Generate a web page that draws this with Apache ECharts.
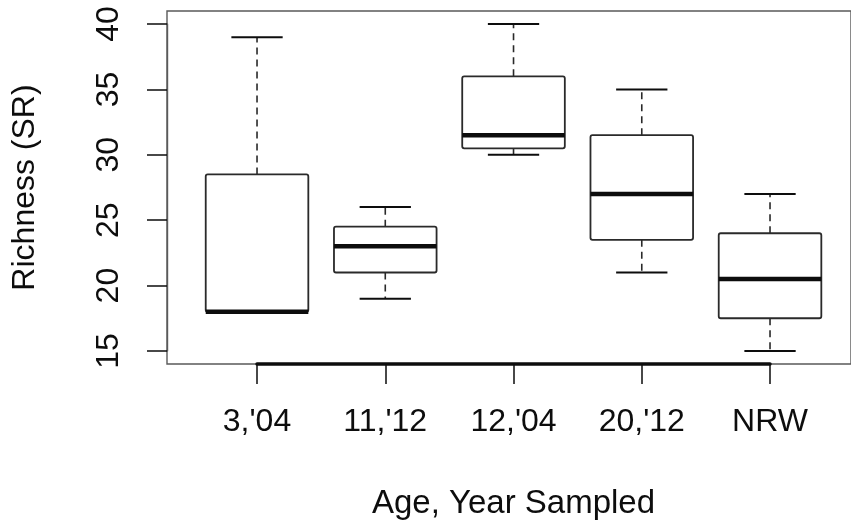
<!DOCTYPE html>
<html>
<head>
<meta charset="utf-8">
<script src="https://cdn.jsdelivr.net/npm/echarts@6/dist/echarts.min.js"></script>
<style>
html,body{margin:0;padding:0;background:#fff;}
#c{width:851px;height:532px;}
</style>
</head>
<body>
<div id="c"></div>
<script>
// ---- data ----
var categories = ["3,'04", "11,'12", "12,'04", "20,'12", "NRW"];
var whiskerLow  = [18, 19, 30, 21, 15];
var q1Values    = [18, 21, 30.5, 23.5, 17.5];
var medians     = [18, 23, 31.5, 27, 20.5];
var q3Values    = [28.5, 24.5, 36, 31.5, 24];
var whiskerHigh = [39, 26, 40, 35, 27];
var yTickMin = 15, yTickMax = 40, yTickStep = 5;
var yRangeMin = 14, yRangeMax = 41;
var xTitle = 'Age, Year Sampled';
var yTitle = 'Richness (SR)';

var boxData = categories.map(function (c, i) {
  return [i, whiskerLow[i], q1Values[i], medians[i], q3Values[i], whiskerHigh[i]];
});

var FONT = "'Liberation Sans', Arial, Helvetica, sans-serif";
var INK = '#0d0d0d';

function renderBox(params, api) {
  var i = api.value(0);
  var band = api.size([1, 0])[0];
  var cx = api.coord([i, api.value(3)])[0];
  var hw = band * 0.4, cw = band * 0.2;
  function Y(v) { return api.coord([i, v])[1]; }
  var yLo = Y(api.value(1)), yQ1 = Y(api.value(2)), yMed = Y(api.value(3)),
      yQ3 = Y(api.value(4)), yHi = Y(api.value(5));
  var dashed = { stroke: '#2a2a2a', lineWidth: 1.6, lineDash: [7, 5], fill: null };
  var kids = [
    { type: 'line', shape: { x1: cx, y1: yQ3, x2: cx, y2: yHi }, style: dashed },
    { type: 'line', shape: { x1: cx, y1: yQ1, x2: cx, y2: yLo }, style: dashed },
    { type: 'line', shape: { x1: cx - cw, y1: yHi, x2: cx + cw, y2: yHi }, style: { stroke: INK, lineWidth: 2 } },
    { type: 'line', shape: { x1: cx - cw, y1: yLo, x2: cx + cw, y2: yLo }, style: { stroke: INK, lineWidth: 2 } },
    { type: 'rect', shape: { x: cx - hw, y: yQ3, width: 2 * hw, height: yQ1 - yQ3, r: 2 }, style: { stroke: '#2a2a2a', lineWidth: 1.8, fill: '#fff' } },
    { type: 'line', shape: { x1: cx - hw, y1: yMed, x2: cx + hw, y2: yMed }, style: { stroke: INK, lineWidth: 4.5 } }
  ];
  return { type: 'group', children: kids };
}

var chart = echarts.init(document.getElementById('c'), null, { renderer: 'canvas' });
chart.setOption({
  backgroundColor: '#ffffff',
  animation: false,
  textStyle: { fontFamily: FONT },
  grid: [
    { left: 167, top: 11, width: 688, height: 353, show: true, borderColor: '#5a5a5a', borderWidth: 1.4, backgroundColor: 'transparent' },
    { left: 192.9, top: 11, width: 641.25, height: 353 },
    { left: 257, top: 11, width: 513, height: 353 },
    { left: 167, top: 24, width: 100, height: 327 }
  ],
  xAxis: [
    { gridIndex: 0, type: 'value', show: false, min: 0, max: 1 },
    { gridIndex: 1, type: 'category', data: categories, show: false, boundaryGap: true },
    { gridIndex: 2, type: 'category', data: categories, boundaryGap: false, position: 'bottom',
      axisLine: { show: true, lineStyle: { color: INK, width: 3.5 } },
      axisTick: { show: true, length: 20, alignWithLabel: true, lineStyle: { color: INK, width: 1.5 } },
      axisLabel: { show: true, margin: 42, fontSize: 32, color: INK, fontFamily: FONT, interval: 0 },
      splitLine: { show: false },
      name: xTitle, nameLocation: 'middle', nameGap: 123, nameMoveOverlap: false,
      nameTextStyle: { fontSize: 33, color: INK, fontFamily: FONT } },
    { gridIndex: 3, type: 'value', show: false, min: 0, max: 1 }
  ],
  yAxis: [
    { gridIndex: 0, type: 'value', show: false, min: 0, max: 1 },
    { gridIndex: 1, type: 'value', show: false, min: yRangeMin, max: yRangeMax },
    { gridIndex: 2, type: 'value', show: false, min: yRangeMin, max: yRangeMax },
    { gridIndex: 3, type: 'value', min: yTickMin, max: yTickMax, interval: yTickStep, position: 'left',
      axisLine: { show: true, lineStyle: { color: '#5a5a5a', width: 1.4 } },
      axisTick: { show: true, length: 20, lineStyle: { color: INK, width: 1.5 } },
      axisLabel: { show: true, rotate: 90, margin: 42, fontSize: 32, color: INK, fontFamily: FONT },
      splitLine: { show: false },
      name: yTitle, nameLocation: 'middle', nameGap: 126, nameMoveOverlap: false,
      nameTextStyle: { fontSize: 32, color: INK, fontFamily: FONT } }
  ],
  series: [
    { type: 'custom', xAxisIndex: 1, yAxisIndex: 1, renderItem: renderBox,
      encode: { x: 0, y: [1, 2, 3, 4, 5] }, data: boxData, clip: false }
  ]
});
</script>
</body>
</html>
